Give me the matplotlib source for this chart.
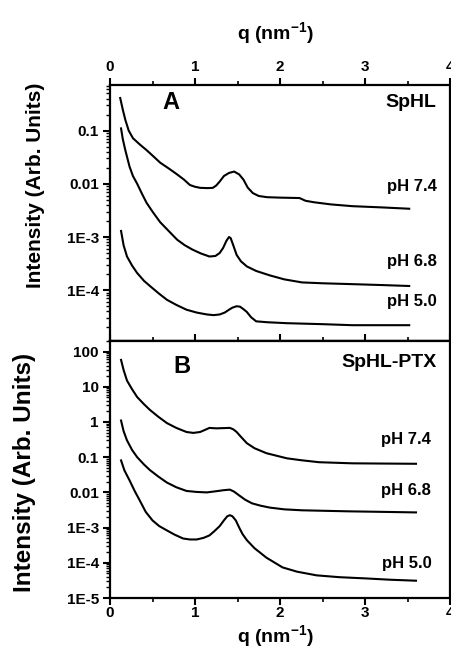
import numpy as np
import matplotlib.pyplot as plt
from matplotlib.ticker import FixedLocator, FixedFormatter, LogLocator, NullFormatter, MultipleLocator

plt.rcParams['font.family'] = ['Liberation Sans', 'DejaVu Sans']
plt.rcParams['font.weight'] = 'bold'
plt.rcParams['mathtext.fontset'] = 'custom'
plt.rcParams['mathtext.rm'] = 'Liberation Sans:bold'
plt.rcParams['mathtext.bf'] = 'Liberation Sans:bold'
plt.rcParams['mathtext.default'] = 'bf'

# Panel A: SpHL
qA_74 = [0.12, 0.15, 0.18, 0.22, 0.27, 0.35, 0.43, 0.50, 0.59, 0.70, 0.79, 0.87, 0.94, 1.00, 1.06, 1.15, 1.21,
         1.25, 1.29, 1.34, 1.40, 1.46, 1.52, 1.57, 1.62, 1.68, 1.75, 1.85, 2.00, 2.23, 2.30, 2.40, 2.60, 2.85, 3.20, 3.52]
IA_74 = [0.41, 0.25, 0.16, 0.10, 0.072, 0.055, 0.043, 0.034, 0.025, 0.019, 0.015, 0.012, 0.0095, 0.0088, 0.0084,
         0.0083, 0.0084, 0.0093, 0.011, 0.014, 0.016, 0.017, 0.015, 0.012, 0.0085, 0.0067, 0.0059, 0.0056, 0.0055,
         0.0054, 0.0048, 0.0045, 0.0041, 0.0038, 0.0036, 0.0034]

qA_68 = [0.13, 0.15, 0.18, 0.23, 0.27, 0.32, 0.37, 0.43, 0.50, 0.59, 0.69, 0.79, 0.88, 0.97, 1.07, 1.17, 1.24, 1.29,
         1.33, 1.37, 1.40, 1.42, 1.45, 1.49, 1.54, 1.61, 1.72, 1.88, 2.05, 2.26, 2.50, 2.85, 3.20, 3.52]
IA_68 = [0.11, 0.07, 0.043, 0.021, 0.014, 0.010, 0.0068, 0.0044, 0.0030, 0.0019, 0.0013, 8.9e-4, 7.0e-4, 5.8e-4,
         4.9e-4, 4.3e-4, 4.4e-4, 5.0e-4, 6.2e-4, 8.5e-4, 1.0e-3, 9.5e-4, 7.0e-4, 4.6e-4, 3.5e-4, 2.8e-4, 2.3e-4,
         1.9e-4, 1.6e-4, 1.4e-4, 1.35e-4, 1.3e-4, 1.25e-4, 1.2e-4]

qA_50 = [0.13, 0.16, 0.20, 0.26, 0.32, 0.40, 0.47, 0.57, 0.67, 0.78, 0.90, 1.02, 1.14, 1.22, 1.29, 1.35, 1.40, 1.44,
         1.49, 1.53, 1.57, 1.61, 1.66, 1.72, 1.85, 2.08, 2.50, 2.85, 3.20, 3.52]
IA_50 = [1.3e-3, 7.0e-4, 4.3e-4, 2.9e-4, 2.1e-4, 1.5e-4, 1.2e-4, 8.8e-5, 6.6e-5, 5.3e-5, 4.3e-5, 3.8e-5, 3.5e-5,
         3.4e-5, 3.5e-5, 3.8e-5, 4.3e-5, 4.7e-5, 5.0e-5, 4.9e-5, 4.4e-5, 3.9e-5, 3.1e-5, 2.6e-5, 2.5e-5, 2.4e-5,
         2.3e-5, 2.2e-5, 2.2e-5, 2.2e-5]

# Panel B: SpHL-PTX
qB_74 = [0.13, 0.16, 0.20, 0.26, 0.32, 0.40, 0.47, 0.57, 0.67, 0.78, 0.90, 0.98, 1.06, 1.12, 1.17, 1.25, 1.33,
         1.41, 1.45, 1.49, 1.54, 1.61, 1.70, 1.84, 2.08, 2.25, 2.46, 2.85, 3.20, 3.60]
IB_74 = [58, 30, 15, 8.5, 5.1, 3.2, 2.2, 1.4, 0.93, 0.68, 0.52, 0.49, 0.52, 0.60, 0.68, 0.66, 0.67, 0.68, 0.62,
         0.52, 0.38, 0.25, 0.18, 0.13, 0.093, 0.082, 0.072, 0.067, 0.066, 0.065]

qB_68 = [0.13, 0.16, 0.20, 0.26, 0.32, 0.40, 0.47, 0.57, 0.67, 0.78, 0.90, 1.02, 1.14, 1.25, 1.33, 1.41, 1.46, 1.52,
         1.59, 1.67, 1.77, 1.88, 2.05, 2.26, 2.80, 3.20, 3.60]
IB_68 = [1.1, 0.55, 0.30, 0.16, 0.10, 0.062, 0.043, 0.028, 0.019, 0.014, 0.011, 0.0103, 0.010, 0.0108, 0.0115,
         0.012, 0.0105, 0.0082, 0.0062, 0.0049, 0.0042, 0.0037, 0.0033, 0.0031, 0.0029, 0.0028, 0.0027]

qB_50 = [0.13, 0.17, 0.23, 0.29, 0.35, 0.42, 0.50, 0.58, 0.67, 0.76, 0.86, 0.94, 1.02, 1.10, 1.17, 1.23, 1.29, 1.34,
         1.38, 1.41, 1.44, 1.48, 1.52, 1.56, 1.61, 1.70, 1.84, 2.03, 2.20, 2.43, 2.70, 3.01, 3.30, 3.60]
IB_50 = [0.081, 0.042, 0.022, 0.011, 0.0059, 0.0028, 1.6e-3, 1.1e-3, 8.3e-4, 6.3e-4, 4.9e-4, 4.6e-4, 4.6e-4, 5.1e-4,
         6.0e-4, 8.0e-4, 1.1e-3, 1.6e-3, 2.1e-3, 2.25e-3, 2.1e-3, 1.6e-3, 1.0e-3, 6.5e-4, 4.4e-4, 2.6e-4, 1.4e-4,
         7.4e-5, 5.6e-5, 4.4e-5, 3.9e-5, 3.6e-5, 3.3e-5, 3.1e-5]

yticksA = [1e-4, 1e-3, 1e-2, 1e-1]
ylabelsA = ['1E-4', '1E-3', '0.01', '0.1']
yticksB = [1e-5, 1e-4, 1e-3, 1e-2, 1e-1, 1, 10, 100]
ylabelsB = ['1E-5', '1E-4', '1E-3', '0.01', '0.1', '1', '10', '100']

fig = plt.figure(figsize=(4.51, 6.51), dpi=100)
axA = fig.add_axes([110/451, 1-341/651, 340/451, 256/651])
axB = fig.add_axes([110/451, 1-598/651, 340/451, 257/651])

lw = 1.5
axA.semilogy(qA_74, IA_74, color='k', lw=lw)
axA.semilogy(qA_68, IA_68, color='k', lw=lw)
axA.semilogy(qA_50, IA_50, color='k', lw=lw)
axB.semilogy(qB_74, IB_74, color='k', lw=lw)
axB.semilogy(qB_68, IB_68, color='k', lw=lw)
axB.semilogy(qB_50, IB_50, color='k', lw=lw)

axA.set_ylim(1.11e-5, 0.72)
axB.set_ylim(1e-5, 200)

for ax, yt, yl in [(axA, yticksA, ylabelsA), (axB, yticksB, ylabelsB)]:
    ax.set_xlim(0, 4)
    ax.xaxis.set_major_locator(MultipleLocator(1))
    ax.xaxis.set_minor_locator(MultipleLocator(0.5))
    ax.yaxis.set_major_locator(FixedLocator(yt))
    ax.yaxis.set_major_formatter(FixedFormatter(yl))
    ax.yaxis.set_minor_locator(LogLocator(base=10, subs=np.arange(2, 10)))
    ax.yaxis.set_minor_formatter(NullFormatter())
    for s in ax.spines.values():
        s.set_linewidth(1.6)
    ax.tick_params(axis='y', which='major', direction='out', length=5, width=1.5,
                   labelsize=11, pad=3)
    ax.tick_params(axis='y', which='minor', direction='out', length=3, width=1.0)
    ax.tick_params(axis='y', right=False)
    for lab in ax.get_yticklabels():
        lab.set_fontweight('bold')

# top panel: labels on top, outward ticks on top, inward ticks on bottom
axA.tick_params(axis='x', which='both', top=True, bottom=False, labeltop=True, labelbottom=False)
axA.tick_params(axis='x', which='major', direction='out', length=5, width=1.5, labelsize=11, pad=3)
axA.tick_params(axis='x', which='minor', direction='out', length=3, width=1.2)
axA2 = axA.secondary_xaxis('bottom')
axA2.xaxis.set_major_locator(MultipleLocator(1))
axA2.xaxis.set_minor_locator(MultipleLocator(0.5))
axA2.tick_params(axis='x', which='major', direction='in', length=5, width=1.5, labelbottom=False)
axA2.tick_params(axis='x', which='minor', direction='in', length=3, width=1.2)
axA2.spines['bottom'].set_linewidth(1.6)

axB.tick_params(axis='x', which='both', top=False, bottom=True)
axB.tick_params(axis='x', which='major', direction='out', length=5, width=1.5, labelsize=11, pad=1)
axB.tick_params(axis='x', which='minor', direction='out', length=3, width=1.2)

for ax in (axA, axB):
    for lab in ax.get_xticklabels():
        lab.set_fontweight('bold')

# panel annotations
axA.text(0.155, 0.93, 'A', transform=axA.transAxes, fontsize=17, fontweight='bold', va='center')
axA.text(0.96, 0.93, 'SpHL', transform=axA.transAxes, fontsize=14, fontweight='bold', va='center', ha='right')
axA.text(0.96, 0.605, 'pH 7.4', transform=axA.transAxes, fontsize=12, fontweight='bold', va='center', ha='right')
axA.text(0.96, 0.31, 'pH 6.8', transform=axA.transAxes, fontsize=12, fontweight='bold', va='center', ha='right')
axA.text(0.96, 0.155, 'pH 5.0', transform=axA.transAxes, fontsize=12, fontweight='bold', va='center', ha='right')

axB.text(0.185, 0.9, 'B', transform=axB.transAxes, fontsize=17, fontweight='bold', va='center')
axB.text(0.96, 0.915, 'SpHL-PTX', transform=axB.transAxes, fontsize=14, fontweight='bold', va='center', ha='right')
axB.text(0.945, 0.615, 'pH 7.4', transform=axB.transAxes, fontsize=12, fontweight='bold', va='center', ha='right')
axB.text(0.945, 0.42, 'pH 6.8', transform=axB.transAxes, fontsize=12, fontweight='bold', va='center', ha='right')
axB.text(0.945, 0.135, 'pH 5.0', transform=axB.transAxes, fontsize=12, fontweight='bold', va='center', ha='right')

# axis labels
fig.text(275/451, 1-33/651, r'q (nm$^{-1}$)', fontsize=14, fontweight='bold', ha='center', va='center')
fig.text(275/451, 1-636/651, r'q (nm$^{-1}$)', fontsize=14, fontweight='bold', ha='center', va='center')
fig.text(36/451, 1-185/651, 'Intensity (Arb. Units)', fontsize=15, fontweight='bold',
         rotation=90, ha='center', va='center')
fig.text(25/451, 1-472/651, 'Intensity (Arb. Units)', fontsize=17.5, fontweight='bold',
         rotation=90, ha='center', va='center')

fig.savefig('out.png', dpi=100)
